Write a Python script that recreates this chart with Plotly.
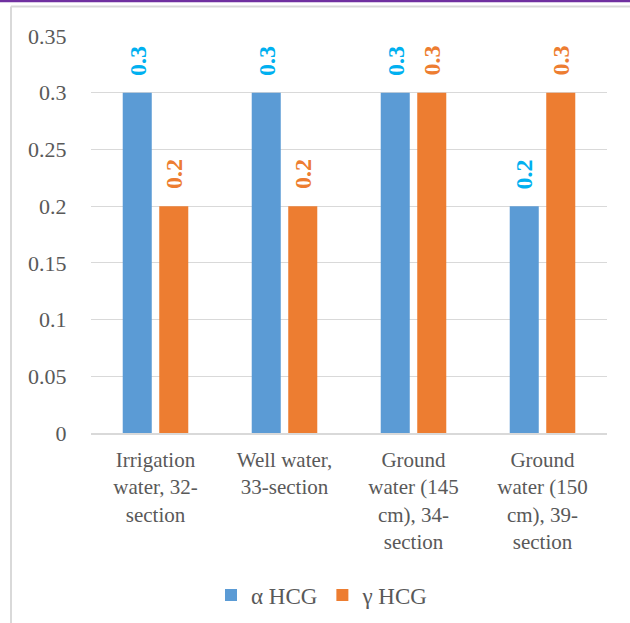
import plotly.graph_objects as go

# Sampling sites (category labels, wrapped as in the chart)
categories = [
    "Irrigation<br>water, 32-<br>section",
    "Well water,<br>33-section",
    "Ground<br>water (145<br>cm), 34-<br>section",
    "Ground<br>water (150<br>cm), 39-<br>section",
]
alpha_hcg = [0.3, 0.3, 0.3, 0.2]
gamma_hcg = [0.2, 0.2, 0.3, 0.3]
y_ticks = [0, 0.05, 0.1, 0.15, 0.2, 0.25, 0.3, 0.35]
y_tick_text = ["0", "0.05", "0.1", "0.15", "0.2", "0.25", "0.3", "0.35"]

BLUE = "#5B9BD5"
ORANGE = "#ED7D31"
BLUE_LABEL = "#00B0F0"
TEXT_GREY = "#595959"
SERIF = "Liberation Serif"

# Plot area in pixels (630 x 623 canvas)
L, R, T, B = 91, 607, 36, 433
W, H = 630, 623
pw, ph = R - L, B - T

fig = go.Figure()
fig.add_trace(go.Bar(name="α HCG", x=categories, y=alpha_hcg,
                     marker=dict(color=BLUE, line=dict(width=0))))
fig.add_trace(go.Bar(name="γ HCG", x=categories, y=gamma_hcg,
                     marker=dict(color=ORANGE, line=dict(width=0))))

# Rotated value labels above each bar
bargap, bargroupgap = 0.434, 0.205
offset = (1 - bargap) / 4
annotations = []
for i in range(len(categories)):
    for vals, col, sign in ((alpha_hcg, BLUE_LABEL, -1), (gamma_hcg, ORANGE, 1)):
        annotations.append(dict(
            x=i + sign * offset, y=vals[i], xref="x", yref="y",
            text=f"<b>{vals[i]:g}</b>", showarrow=False, textangle=-90,
            yanchor="bottom", xanchor="center", yshift=15,
            font=dict(family=SERIF, size=24, color=col),
        ))

def px_x(p):
    return (p - L) / pw

def px_y(p):
    return (B - p) / ph

shapes = [
    # chart frame (left and top edges visible)
    dict(type="line", xref="paper", yref="paper",
         x0=px_x(11), x1=px_x(11), y0=px_y(6.5), y1=px_y(640),
         line=dict(color="#D9D9D9", width=2)),
    dict(type="line", xref="paper", yref="paper",
         x0=px_x(11), x1=px_x(650), y0=px_y(6.5), y1=px_y(6.5),
         line=dict(color="#D9D9D9", width=2)),
    # purple rule along the top edge
    dict(type="rect", xref="paper", yref="paper",
         x0=px_x(-5), x1=px_x(650), y0=px_y(0), y1=px_y(2.2),
         line=dict(width=0), fillcolor="#7030A0"),
]

fig.update_layout(
    width=W, height=H,
    margin=dict(l=L, r=W - R, t=T, b=H - B, pad=0, autoexpand=False),
    paper_bgcolor="white", plot_bgcolor="white",
    barmode="group", bargap=bargap, bargroupgap=bargroupgap,
    font=dict(family=SERIF, size=22, color=TEXT_GREY),
    showlegend=True,
    legend=dict(orientation="h", x=px_x(322), xanchor="center",
                y=px_y(595), yanchor="middle",
                font=dict(family=SERIF, size=23, color=TEXT_GREY),
                itemwidth=30, bgcolor="rgba(0,0,0,0)"),
    annotations=annotations,
    shapes=shapes,
)
fig.update_yaxes(range=[0, 0.35], tickvals=y_ticks, ticktext=y_tick_text,
                 showgrid=True, gridcolor="#D9D9D9", gridwidth=1,
                 zeroline=False, showline=False,
                 ticks="outside", ticklen=19, tickcolor="rgba(0,0,0,0)",
                 tickfont=dict(family=SERIF, size=22, color=TEXT_GREY))
fig.update_xaxes(showgrid=False, zeroline=False,
                 showline=True, linecolor="#D9D9D9", linewidth=1.5,
                 ticks="outside", ticklen=7, tickcolor="rgba(0,0,0,0)",
                 tickangle=0,
                 tickfont=dict(family=SERIF, size=21, color=TEXT_GREY))

fig.write_html("out.html")
